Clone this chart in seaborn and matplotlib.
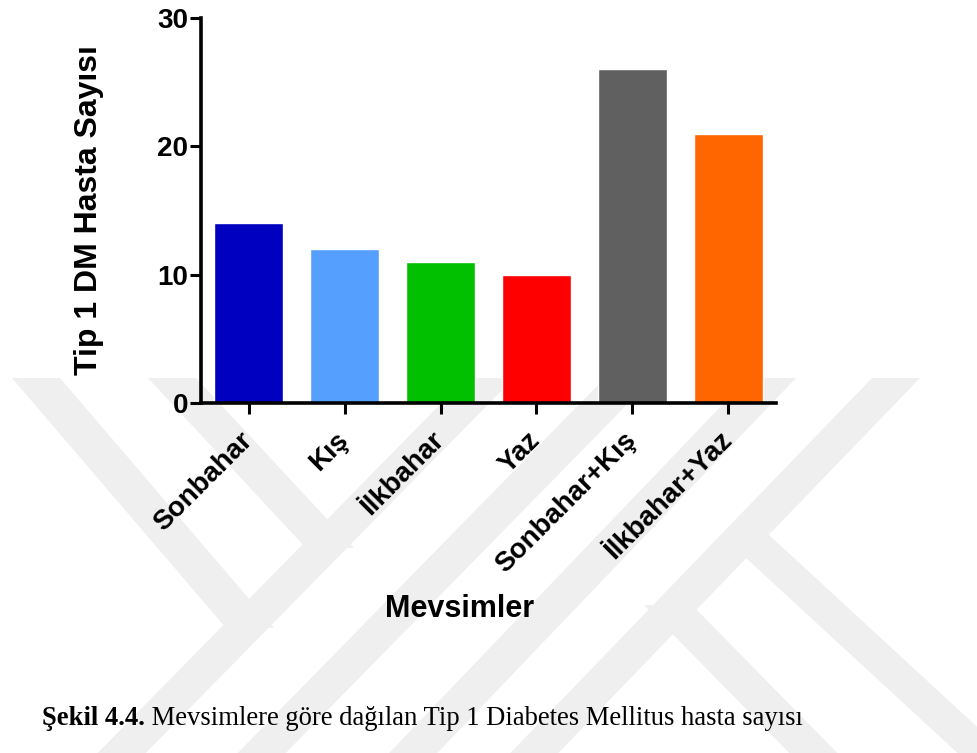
import matplotlib
matplotlib.use("Agg")
import matplotlib.pyplot as plt
import seaborn as sns
from matplotlib.patches import Polygon

# data
seasons = ["Sonbahar", "Kış", "İlkbahar", "Yaz", "Sonbahar+Kış", "İlkbahar+Yaz"]
counts = [14, 12, 11, 10, 26, 21]
bar_colors = ["#0000C0", "#55A0FF", "#00C000", "#FF0000", "#606060", "#FF6600"]
y_ticks = [0, 10, 20, 30]

W, H = 977, 753

sns.set_style("ticks", {"axes.edgecolor": "black", "text.color": "black",
                        "xtick.color": "black", "ytick.color": "black",
                        "axes.labelcolor": "black"})
plt.rcParams["font.family"] = ["Liberation Sans", "DejaVu Sans"]

fig = plt.figure(figsize=(W / 100, H / 100), dpi=100)
fig.patch.set_facecolor("white")

# faint background watermark, pixel coords: (x at top, y top, x at bottom, y bottom)
wm = [
    (36, 378, 250, 628),
    (172, 378, 330, 548),
    (490, 378, 105, 770),
    (629, 378, 245, 770),
    (772, 378, 397, 770),
    (896, 378, 518, 770),
    (668, 605, 830, 770),
    (745, 535, 1000, 770),
]
band_w = 48
for xt, yt, xb, yb in wm:
    pts = [(xt - band_w / 2, yt), (xt + band_w / 2, yt),
           (xb + band_w / 2, yb), (xb - band_w / 2, yb)]
    pts = [(px / W, 1 - py / H) for px, py in pts]
    fig.add_artist(Polygon(pts, closed=True, transform=fig.transFigure,
                           facecolor="#EFEFEF", edgecolor="none", zorder=-5))

ax = fig.add_axes([201 / W, 1 - 403 / H, 575 / W, 385 / H])
ax.patch.set_alpha(0)

sns.barplot(x=seasons, y=counts, hue=seasons, palette=bar_colors, width=0.72,
            saturation=1, legend=False, ax=ax)

ax.set_xlim(-0.5, 5.5)
ax.set_ylim(0, 30)
ax.set_yticks(y_ticks)
sns.despine(ax=ax)
for s in ["left", "bottom"]:
    ax.spines[s].set_linewidth(2.6)
    ax.spines[s].set_color("black")
ax.tick_params(axis="both", length=8, width=2.2, color="black", labelcolor="black")
ax.tick_params(axis="y", pad=1)
ax.tick_params(axis="x", pad=16)

for lab in ax.get_yticklabels():
    lab.set_fontsize(20)
    lab.set_fontweight("bold")
for lab in ax.get_xticklabels():
    lab.set_fontsize(20)
    lab.set_fontweight("bold")
    lab.set_rotation(45)
    lab.set_ha("right")
    lab.set_va("center")
    lab.set_rotation_mode("anchor")

ax.set_ylabel("Tip 1 DM Hasta Sayısı", fontsize=23, fontweight="bold", color="black")
ax.yaxis.set_label_coords((104 - 201) / 575, 0.5)
ax.set_xlabel("Mevsimler", fontsize=22, fontweight="bold", color="black")
ax.xaxis.set_label_coords((460 - 201) / 575, (403 - 594) / 385)

# caption: bold figure number followed by regular text
serif = ["Liberation Serif", "DejaVu Serif"]
t1 = fig.text(42 / W, 1 - 725 / H, "Şekil 4.4.", fontsize=19.2, fontweight="bold",
              family=serif, va="baseline", ha="left", color="black")
plt.annotate(" Mevsimlere göre dağılan Tip 1 Diabetes Mellitus hasta sayısı",
             xy=(1, 0), xycoords=t1, va="bottom", ha="left", fontsize=19.2,
             family=serif, color="black", annotation_clip=False)

fig.savefig("out.png", dpi=100)
